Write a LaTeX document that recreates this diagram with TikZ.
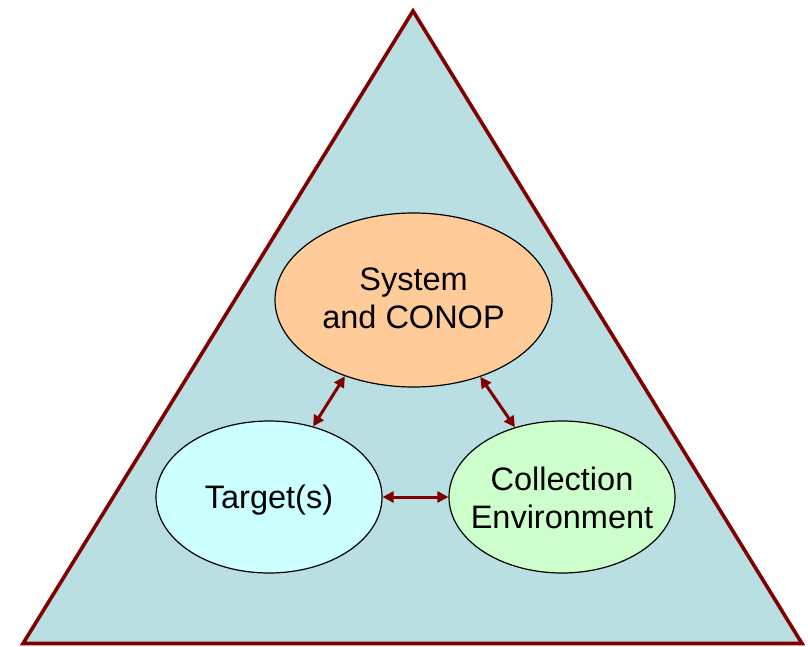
\documentclass[tikz,border=0pt]{standalone}
\usepackage{fontspec}
\setmainfont{Liberation Sans}
\usetikzlibrary{shapes.geometric,arrows.meta}
\definecolor{tri}{HTML}{B9DFE2}
\definecolor{trib}{HTML}{800000}
\definecolor{sysc}{HTML}{FFCC99}
\definecolor{tgtc}{HTML}{CCFFFF}
\definecolor{colc}{HTML}{CCFFCC}
\tikzset{
  blob/.style={ellipse,draw=black,line width=1.2pt,inner sep=0pt},
  lbl/.style={inner sep=0pt,align=center,font=\fontsize{32.5}{38}\selectfont},
  link/.style={draw=trib,line width=3pt,{Triangle[length=11pt,width=11pt]}-{Triangle[length=11pt,width=11pt]}}
}
\begin{document}
\begin{tikzpicture}[x=1pt,y=-1pt]
\useasboundingbox (0,0) rectangle (808,647);
\coordinate (apex) at (413,11);
\coordinate (bl) at (23,643.5);
\coordinate (br) at (802,643.5);
\draw[draw=trib,fill=tri,line width=3.6pt,line join=miter] (apex) -- (bl) -- (br) -- cycle;
\node[blob,fill=sysc,minimum width=277pt,minimum height=174pt] (sys) at (413.5,300) {};
\node[blob,fill=tgtc,minimum width=226pt,minimum height=152pt] (tgt) at (269,497) {};
\node[blob,fill=colc,minimum width=226pt,minimum height=152pt] (col) at (562,497) {};
\node[lbl] (syst) at (413.5,298) {System\\and CONOP};
\node[lbl,anchor=base] (tgtt) at (269,508) {Target(s)};
\node[lbl] (colt) at (562,498) {Collection\\Environment};
\draw[link] (sys.228.7) -- (tgt.58.6);
\draw[link] (sys.311.7) -- (col.124.4);
\draw[link] (tgt.east) -- (col.west);
\end{tikzpicture}
\end{document}
